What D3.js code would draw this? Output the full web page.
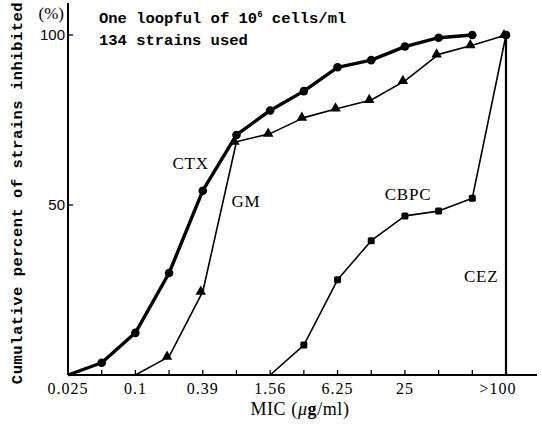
<!DOCTYPE html>
<html>
<head>
<meta charset="utf-8">
<script src="https://cdn.jsdelivr.net/npm/d3@7"></script>
<style>
  html, body { margin: 0; padding: 0; background: #fff; }
  svg { display: block; }
</style>
</head>
<body>
<svg id="chart" width="542" height="425"></svg>
<script>
// MIC dilution steps (two-fold series), last step is "above 100"
const micSteps = ["0.025","0.05","0.1","0.2","0.39","0.78","1.56","3.13","6.25","12.5","25","50","100",">100"];
const tickLabels = ["0.025","0.1","0.39","1.56","6.25","25",">100"];
const yTicks = [50, 100];

// Cumulative percent of strains inhibited at each MIC step (null = below range)
const ctx  = [0, 3.6, 12.4, 30, 54.2, 70.6, 77.8, 83.5, 90.5, 92.6, 96.6, 99.2, 100, null];
const gm   = [null, null, 0, 5.4, 24.5, 68.6, 71, 75.7, 78.4, 80.9, 86.5, 94.3, 97, 100];
const cbpc = [null, null, null, null, null, null, 0, 8.8, 28, 39.5, 46.8, 48.2, 52, 100];
const cez  = [null, null, null, null, null, null, null, null, null, null, null, null, null, 100];

const svg = d3.select("#chart");
const x = d3.scaleLinear().domain([0, micSteps.length - 1]).range([68, 506]);
const y = d3.scaleLinear().domain([0, 100]).range([375, 35]);

const serif = "'Liberation Serif', 'Times New Roman', serif";
const mono = "'Liberation Mono', 'Courier New', monospace";

// axes
svg.append("line").attr("x1", x(0)).attr("x2", 537).attr("y1", y(0)).attr("y2", y(0))
  .attr("stroke", "#000").attr("stroke-width", 2);
svg.append("line").attr("x1", x(0)).attr("x2", x(0)).attr("y1", y(0)).attr("y2", 3)
  .attr("stroke", "#000").attr("stroke-width", 2);

// x ticks at every dilution step, pointing up
svg.append("g").selectAll("line").data(d3.range(1, micSteps.length)).join("line")
  .attr("x1", d => x(d)).attr("x2", d => x(d))
  .attr("y1", y(0)).attr("y2", y(0) - 5)
  .attr("stroke", "#000").attr("stroke-width", 1.3);

// x tick labels (the open-ended class label sits a little left of its tick)
svg.append("g").selectAll("text").data(tickLabels).join("text")
  .attr("x", d => x(micSteps.indexOf(d)) - (d.startsWith(">") ? 8 : 0))
  .attr("y", 394)
  .attr("text-anchor", "middle")
  .attr("font-family", serif).attr("font-size", 16)
  .attr("letter-spacing", 1)
  .text(d => d);

// y ticks pointing right, labels to the left
svg.append("g").selectAll("line").data(yTicks).join("line")
  .attr("x1", x(0)).attr("x2", x(0) + 5)
  .attr("y1", d => y(d)).attr("y2", d => y(d))
  .attr("stroke", "#000").attr("stroke-width", 1.3);
svg.append("g").selectAll("text").data(yTicks).join("text")
  .attr("x", x(0) - 3).attr("y", d => y(d) + 5)
  .attr("text-anchor", "end")
  .attr("font-family", "'Liberation Sans', Arial, sans-serif").attr("font-size", 15)
  .text(d => d);
svg.append("text").attr("x", x(0) - 4).attr("y", 19).attr("text-anchor", "end")
  .attr("font-family", serif).attr("font-size", 17).text("(%)");

// axis titles
svg.append("text")
  .attr("transform", `translate(22, 193) rotate(-90)`)
  .attr("text-anchor", "middle")
  .attr("font-family", mono).attr("font-weight", "bold").attr("font-size", 15.5)
  .attr("letter-spacing", 0.5)
  .text("Cumulative percent of strains inhibited");

const micTitle = svg.append("text").attr("x", 300).attr("y", 415)
  .attr("text-anchor", "middle").attr("font-family", serif).attr("font-size", 18)
  .attr("letter-spacing", 0.6);
micTitle.append("tspan").text("MIC (");
micTitle.append("tspan").attr("font-style", "italic").text("μ");
micTitle.append("tspan").attr("font-weight", "bold").text("g");
micTitle.append("tspan").text("/ml)");

// notes
const note = svg.append("g").attr("font-family", mono).attr("font-weight", "bold").attr("font-size", 15.5);
const l1 = note.append("text").attr("x", 99).attr("y", 23);
l1.append("tspan").text("One loopful of 10");
l1.append("tspan").attr("dy", -6).attr("font-size", 9).text("6");
l1.append("tspan").attr("dy", 6).text(" cells/ml");
note.append("text").attr("x", 99).attr("y", 45).text("134 strains used");

// series
const pts = arr => arr.map((v, i) => ({i, v})).filter(d => d.v !== null);
const line = d3.line().x(d => x(d.i)).y(d => y(d.v));

function drawSeries(arr, width, marker) {
  const p = pts(arr);
  svg.append("path").datum(p).attr("d", line)
    .attr("fill", "none").attr("stroke", "#000").attr("stroke-width", width)
    .attr("stroke-linejoin", "round");
  const m = p.filter(d => d.v > 0);
  const g = svg.append("g");
  if (marker === "circle") {
    g.selectAll("circle").data(m).join("circle")
      .attr("cx", d => x(d.i)).attr("cy", d => y(d.v)).attr("r", 4.3).attr("fill", "#000");
  } else if (marker === "triangle") {
    const tri = d3.symbol().type(d3.symbolTriangle).size(48);
    g.selectAll("path").data(m).join("path")
      .attr("transform", d => `translate(${x(d.i) - 2},${y(d.v)})`)
      .attr("d", tri).attr("fill", "#000");
  } else {
    g.selectAll("rect").data(m).join("rect")
      .attr("x", d => x(d.i) - 3.5).attr("y", d => y(d.v) - 3.5)
      .attr("width", 7).attr("height", 7).attr("rx", 1.5).attr("fill", "#000");
  }
}

drawSeries(gm, 1.6, "triangle");
drawSeries(cbpc, 1.6, "square");
drawSeries(ctx, 3.4, "circle");

// CEZ: every strain inhibited only above the top concentration, a vertical rise
const cezPts = pts(cez);
svg.append("g").selectAll("line").data(cezPts).join("line")
  .attr("x1", d => x(d.i)).attr("x2", d => x(d.i))
  .attr("y1", y(0)).attr("y2", d => y(d.v))
  .attr("stroke", "#000").attr("stroke-width", 2.2);
svg.append("g").selectAll("circle").data(cezPts).join("circle")
  .attr("cx", d => x(d.i)).attr("cy", d => y(d.v)).attr("r", 4.3).attr("fill", "#000");

// series labels
const labels = [
  {name: "CTX", i: 3.1, v: 60.5},
  {name: "GM", i: 4.85, v: 49.5},
  {name: "CBPC", i: 9.4, v: 51.5},
  {name: "CEZ", i: 11.75, v: 27.5}
];
svg.append("g").selectAll("text").data(labels).join("text")
  .attr("x", d => x(d.i)).attr("y", d => y(d.v))
  .attr("font-family", serif).attr("font-size", 17)
  .attr("letter-spacing", 0.8)
  .text(d => d.name);
</script>
</body>
</html>
